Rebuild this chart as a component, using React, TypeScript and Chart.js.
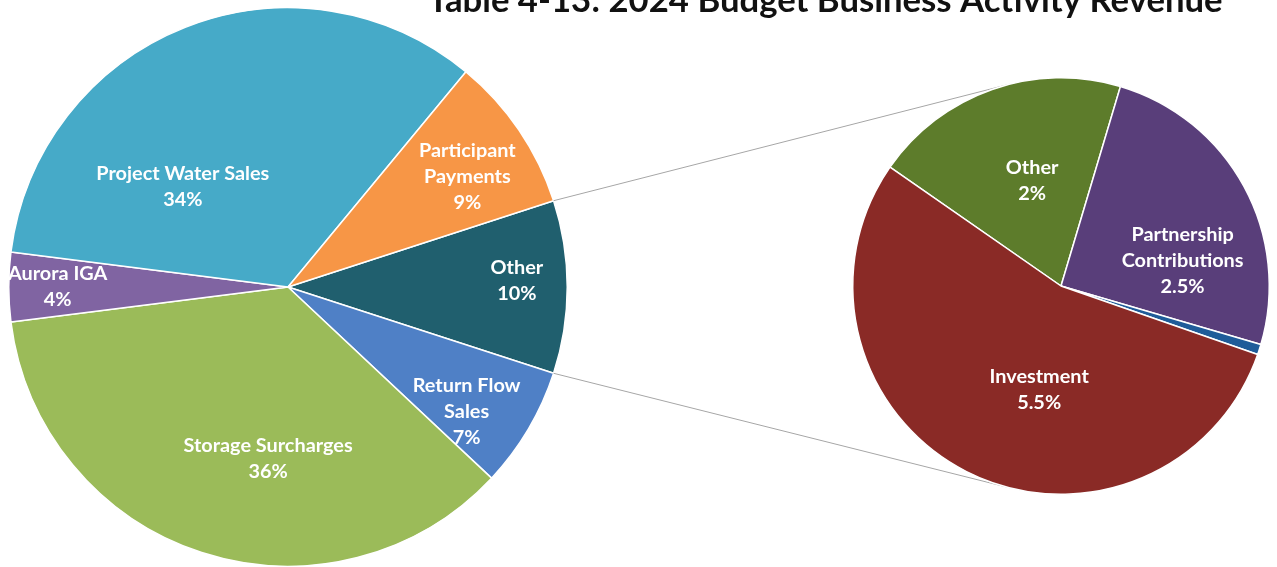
import React, { useEffect, useRef } from 'react';
import { Chart, registerables } from 'chart.js';

Chart.register(...registerables);

// ---------- data ----------
const TITLE = 'Table 4-13: 2024 Budget Business Activity Revenue';

const mainCategories = ['Other', 'Return Flow Sales', 'Storage Surcharges', 'Aurora IGA', 'Project Water Sales', 'Participant Payments'];
const mainValues = [10, 7, 36, 4, 34, 9];
const mainLabelLines = [
  ['Other', '10%'],
  ['Return Flow', 'Sales', '7%'],
  ['Storage Surcharges', '36%'],
  ['Aurora IGA', '4%'],
  ['Project Water Sales', '34%'],
  ['Participant', 'Payments', '9%'],
];

const subCategories = ['Other', 'Partnership Contributions', 'Miscellaneous', 'Investment'];
const subValues = [2.0, 2.5, 0.08, 5.45];
const subLabelLines = [
  ['Other', '2%'],
  ['Partnership', 'Contributions', '2.5%'],
  [],
  ['Investment', '5.5%'],
];

// ---------- styles ----------
const mainColors = ['#205F6E', '#4F80C6', '#9BBB59', '#8064A2', '#46AAC8', '#F79646'];
const subColors = ['#5D7C2B', '#593E7A', '#1F5C99', '#8A2A26'];
// label placement: [angle in degrees (canvas, clockwise from east), fraction of radius]
const mainLabelPlace = [[-1.5, 0.82], [34.9, 0.78], [96.6, 0.62], [180.2, 0.825], [223.6, 0.52], [-31.7, 0.755]];
const subLabelPlace = [[-105.3, 0.526], [-11.6, 0.596], [0, 0], [101.9, 0.509]];

const FONT = 'Lato, "Open Sans", sans-serif';
const LINE_H = 26;

function labelFontSize(ctx: CanvasRenderingContext2D) {
  ctx.font = `bold 100px ${FONT}`;
  const w = ctx.measureText('Project Water Sales').width;
  return (100 * 173) / w;
}

function makeLabelPlugin(lines: string[][], place: number[][]) {
  return {
    id: 'sliceLabels',
    afterDatasetsDraw(chart: any) {
      const ctx: CanvasRenderingContext2D = chart.ctx;
      const meta = chart.getDatasetMeta(0);
      ctx.save();
      const size = labelFontSize(ctx);
      ctx.font = `bold ${size}px ${FONT}`;
      ctx.fillStyle = '#FFFFFF';
      ctx.textAlign = 'center';
      ctx.textBaseline = 'middle';
      meta.data.forEach((arc: any, i: number) => {
        const ls = lines[i];
        if (!ls || ls.length === 0) return;
        const [deg, frac] = place[i];
        const a = (deg * Math.PI) / 180;
        const cx = arc.x + Math.cos(a) * arc.outerRadius * frac;
        const cy = arc.y + Math.sin(a) * arc.outerRadius * frac;
        const top = cy - ((ls.length - 1) * LINE_H) / 2;
        ls.forEach((t, k) => ctx.fillText(t, cx, top + k * LINE_H));
      });
      ctx.restore();
    },
  };
}

const titlePlugin = {
  id: 'bigTitle',
  afterDraw(chart: any) {
    const ctx: CanvasRenderingContext2D = chart.ctx;
    ctx.save();
    ctx.font = `bold 100px ${FONT}`;
    const w = ctx.measureText(TITLE).width;
    const size = (100 * 795) / w;
    ctx.font = `bold ${size}px ${FONT}`;
    ctx.fillStyle = '#111111';
    ctx.textAlign = 'left';
    ctx.textBaseline = 'alphabetic';
    ctx.fillText(TITLE, 428, 12);
    ctx.restore();
  },
};

export default function App() {
  const mainRef = useRef<HTMLCanvasElement>(null);
  const subRef = useRef<HTMLCanvasElement>(null);

  useEffect(() => {
    if (!mainRef.current || !subRef.current) return;

    const mainChart = new Chart(mainRef.current, {
      type: 'pie',
      data: {
        labels: mainCategories,
        datasets: [
          {
            data: mainValues,
            backgroundColor: mainColors,
            borderColor: '#FFFFFF',
            borderWidth: 1.5,
          },
        ],
      },
      options: {
        responsive: false,
        animation: false,
        devicePixelRatio: 1,
        rotation: 72,
        layout: { padding: { left: 8, top: 7, right: 709, bottom: 0 } },
        plugins: { legend: { display: false }, tooltip: { enabled: false }, title: { display: false } },
      },
      plugins: [makeLabelPlugin(mainLabelLines, mainLabelPlace), titlePlugin],
    });

    const connectorPlugin = {
      id: 'connectors',
      beforeDatasetsDraw(chart: any) {
        const mMeta = mainChart.getDatasetMeta(0);
        const src: any = mMeta.data[0];
        const sMeta = chart.getDatasetMeta(0);
        const dst: any = sMeta.data[0];
        if (!src || !dst) return;
        const R = src.outerRadius;
        const p1 = { x: src.x + R * Math.cos(src.startAngle), y: src.y + R * Math.sin(src.startAngle) };
        const p2 = { x: src.x + R * Math.cos(src.endAngle), y: src.y + R * Math.sin(src.endAngle) };
        const r = dst.outerRadius;
        const tangent = (p: { x: number; y: number }, sign: number) => {
          const dx = dst.x - p.x;
          const dy = dst.y - p.y;
          const d = Math.hypot(dx, dy);
          const base = Math.atan2(dy, dx);
          const half = Math.asin(Math.min(1, r / d));
          const L = Math.sqrt(Math.max(0, d * d - r * r));
          const ang = base + sign * half;
          return { x: p.x + L * Math.cos(ang), y: p.y + L * Math.sin(ang) };
        };
        const t1 = tangent(p1, -1);
        const t2 = tangent(p2, 1);
        const ctx: CanvasRenderingContext2D = chart.ctx;
        ctx.save();
        ctx.strokeStyle = '#A6A6A6';
        ctx.lineWidth = 1;
        ctx.beginPath();
        ctx.moveTo(p1.x, p1.y);
        ctx.lineTo(t1.x, t1.y);
        ctx.moveTo(p2.x, p2.y);
        ctx.lineTo(t2.x, t2.y);
        ctx.stroke();
        ctx.restore();
      },
    };

    const subChart = new Chart(subRef.current, {
      type: 'pie',
      data: {
        labels: subCategories,
        datasets: [
          {
            data: subValues,
            backgroundColor: subColors,
            borderColor: '#FFFFFF',
            borderWidth: 1.5,
          },
        ],
      },
      options: {
        responsive: false,
        animation: false,
        devicePixelRatio: 1,
        rotation: -55.2,
        layout: { padding: { left: 852, top: 77, right: 7, bottom: 72 } },
        plugins: { legend: { display: false }, tooltip: { enabled: false }, title: { display: false } },
      },
      plugins: [connectorPlugin, makeLabelPlugin(subLabelLines, subLabelPlace)],
    });

    return () => {
      subChart.destroy();
      mainChart.destroy();
    };
  }, []);

  const canvasStyle: React.CSSProperties = { position: 'absolute', left: 0, top: 0, width: 1277, height: 567 };
  return (
    <div style={{ position: 'absolute', left: 0, top: 0, width: 1277, height: 567, overflow: 'hidden', background: '#FFFFFF' }}>
      <canvas ref={mainRef} width={1277} height={567} style={canvasStyle} />
      <canvas ref={subRef} width={1277} height={567} style={canvasStyle} />
    </div>
  );
}
